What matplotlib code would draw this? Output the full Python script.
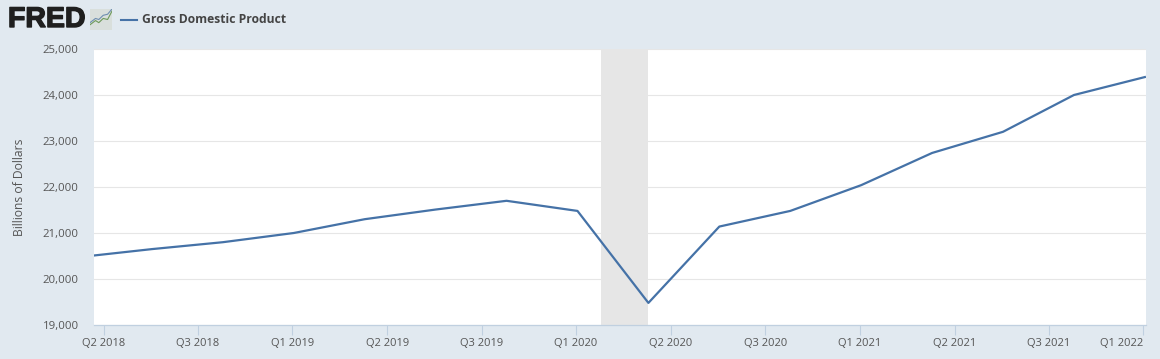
import matplotlib
matplotlib.use("Agg")
import matplotlib.pyplot as plt
import matplotlib.patheffects as pe
from matplotlib.patches import Rectangle

W, H = 1160, 359
quarters = ["Q2 2018", "Q3 2018", "Q4 2018", "Q1 2019", "Q2 2019", "Q3 2019", "Q4 2019", "Q1 2020",
            "Q2 2020", "Q3 2020", "Q4 2020", "Q1 2021", "Q2 2021", "Q3 2021", "Q4 2021", "Q1 2022"]
gdp = [20480, 20650, 20800, 21000, 21300, 21510, 21700, 21480,
       19480, 21140, 21480, 22040, 22740, 23200, 24000, 24390]
tick_labels = ["Q2 2018", "Q3 2018", "Q1 2019", "Q2 2019", "Q3 2019", "Q1 2020",
               "Q2 2020", "Q3 2020", "Q1 2021", "Q2 2021", "Q3 2021", "Q1 2022"]
tick_pos = [0.32, 1.65, 2.98, 4.32, 5.65, 6.98, 8.32, 9.65, 10.98, 12.32, 13.65, 14.98]
recession = (7.33, 8.0)
yticks = [19000, 20000, 21000, 22000, 23000, 24000, 25000]

BG = "#e1e9f0"
LINE = "#4572a7"
TXT = "#555555"

fig = plt.figure(figsize=(W / 100, H / 100), dpi=100, facecolor=BG)
ax = fig.add_axes([94 / W, 1 - 325 / H, (1146 - 94) / W, (325 - 49) / H], facecolor="white")
x = range(len(quarters))
ax.axvspan(*recession, color="#e6e6e6", lw=0, zorder=2)
ax.plot(x, gdp, color=LINE, lw=1.6, zorder=3, solid_joinstyle="round")
ax.set_xlim(0.183, 15.016)
ax.set_ylim(19000, 25000)
ax.set_yticks(yticks)
ax.set_yticklabels([f"{v:,}" for v in yticks], fontsize=8.2, color=TXT, family="Open Sans")
ax.set_xticks(tick_pos)
ax.set_xticklabels(tick_labels, fontsize=8.0, color=TXT, family="Open Sans")
labels = ax.get_xticklabels()
labels[-1].set_ha("right")
labels[-1].set_transform(labels[-1].get_transform() + matplotlib.transforms.ScaledTranslation(2 / 100, 0, fig.dpi_scale_trans))
ax.tick_params(axis="y", length=0, pad=11)
ax.tick_params(axis="x", length=7.5, width=0.8, color="#c0d0e0", pad=1.5)
ax.grid(axis="y", color="#e6e6e6", lw=0.8, zorder=1)
ax.set_axisbelow(True)
for s in ("top", "left", "right"):
    ax.spines[s].set_visible(False)
ax.spines["bottom"].set_color("#c0d0e0")
ax.spines["bottom"].set_linewidth(0.9)
ax.set_ylabel("Billions of Dollars", fontsize=8.7, color=TXT, family="Open Sans", va="center")
ax.yaxis.set_label_coords((20 - 94) / (1146 - 94), 0.5)

# Header
fig.text(8 / W, 1 - 20 / H, "FRED", fontsize=20.5, fontweight="bold", color="#1f1f1f",
         family="Liberation Sans", va="center", ha="left",
         path_effects=[pe.withStroke(linewidth=1.0, foreground="#1f1f1f")])
icon = fig.add_axes([90 / W, 1 - 30 / H, 22 / W, 21 / H], facecolor="#dde3e3")
icon.set_xlim(0, 10); icon.set_ylim(0, 10); icon.axis("off")
icon.add_patch(Rectangle((0, 0), 10, 10, color="#d9dfdc", lw=0))
icon.plot([0, 2.5, 4, 6, 8, 10], [2.5, 4.5, 3.5, 5.5, 5, 9], color="#6e9a5a", lw=0.8)
icon.plot([0, 2.5, 4, 6, 8, 10], [3.5, 5.5, 5, 7, 7.5, 10], color="#6f8fb0", lw=0.8)
fig.add_artist(plt.Line2D([121 / W, 137 / W], [1 - 19.5 / H] * 2, color=LINE, lw=1.5))
fig.text(142 / W, 1 - 19.5 / H, "Gross Domestic Product", fontsize=8.75, fontweight="bold",
         color="#444444", family="Open Sans", va="center", ha="left")

fig.savefig("out.png", dpi=100, facecolor=BG)
